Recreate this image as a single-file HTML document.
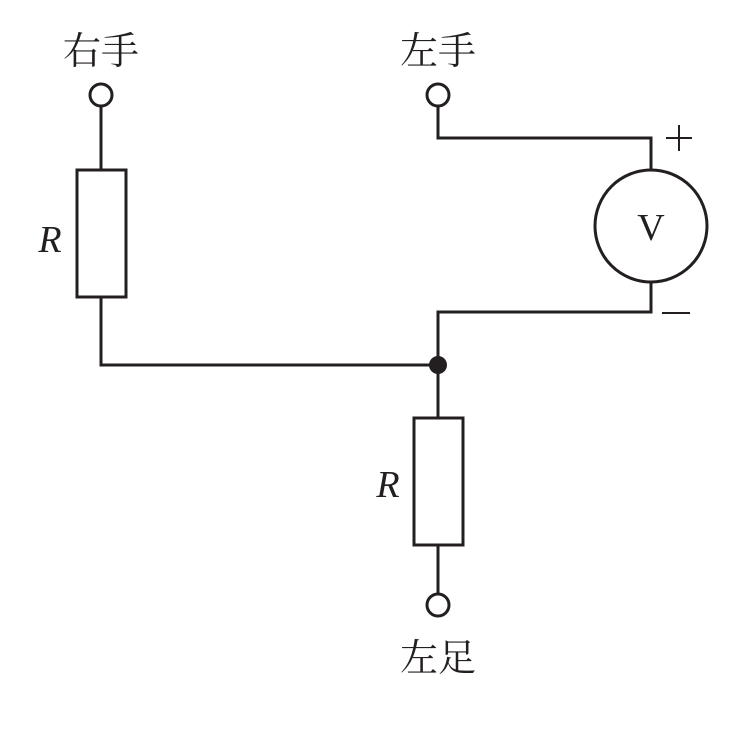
<!DOCTYPE html>
<html><head><meta charset="utf-8"><style>
html,body{margin:0;padding:0;background:#fff;}
svg{display:block;}
text{fill:#231f20;}
</style></head><body>
<svg width="739" height="747" viewBox="0 0 739 747" xmlns="http://www.w3.org/2000/svg">
<g stroke="#231f20" stroke-width="3" fill="none">
<circle cx="101" cy="95" r="11" fill="#fff"/>
<line x1="101" y1="106" x2="101" y2="170"/>
<rect x="77" y="170" width="49" height="127" fill="#fff"/>
<polyline points="101,297 101,365 438,365"/>
<circle cx="438" cy="95" r="11" fill="#fff"/>
<polyline points="438,106 438,138 651,138 651,170"/>
<circle cx="651" cy="226" r="56" fill="#fff"/>
<polyline points="651,282 651,312 438,312 438,418"/>
<rect x="414" y="418" width="49" height="127" fill="#fff"/>
<line x1="438" y1="545" x2="438" y2="594"/>
<circle cx="438" cy="605" r="11" fill="#fff"/>
<line x1="666" y1="138" x2="692" y2="138" stroke-width="2"/>
<line x1="662" y1="313" x2="690" y2="313" stroke-width="2"/>
<line x1="679" y1="125" x2="679" y2="151" stroke-width="2"/>
</g>
<circle cx="438" cy="365" r="9" fill="#231f20"/>
<g font-family="'Liberation Serif','Noto Serif CJK SC',serif" font-size="38" text-anchor="middle">
<text x="101" y="64">右手</text>
<text x="438" y="64">左手</text>
<text x="438" y="671">左足</text>
<text x="651" y="240" font-size="38">V</text>
<text x="50" y="252" font-style="italic" font-size="38">R</text>
<text x="388" y="497" font-style="italic" font-size="38">R</text>
</g>
</svg>
</body></html>
